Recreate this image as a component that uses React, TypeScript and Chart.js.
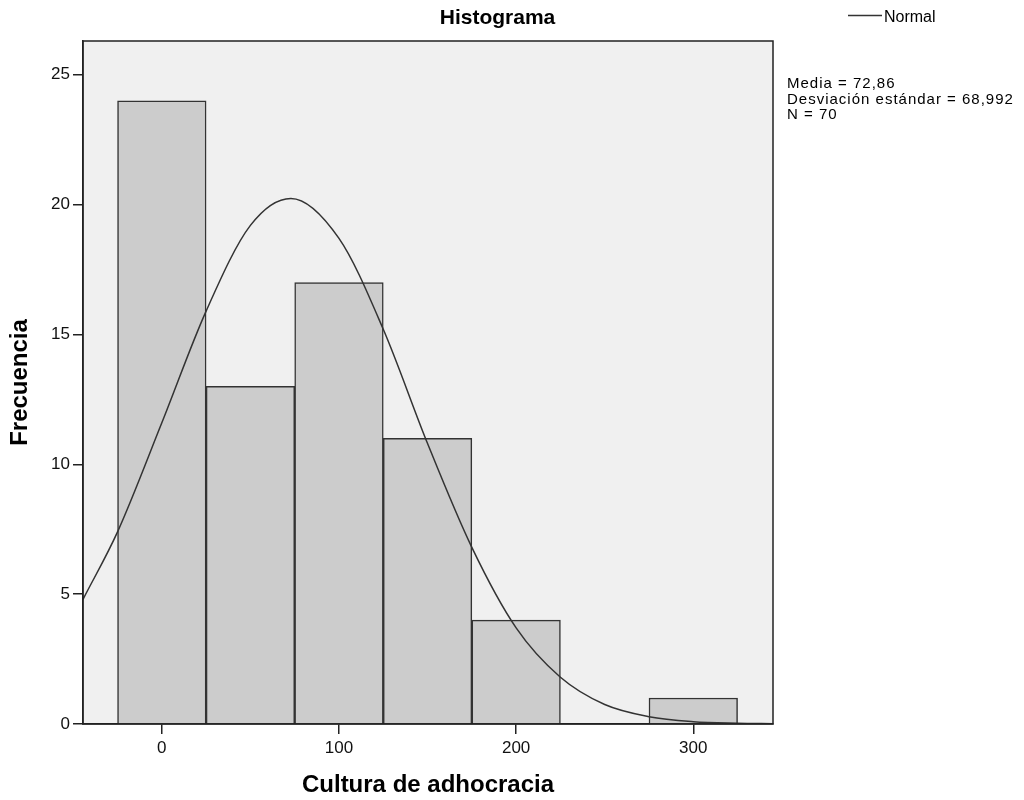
import React, { useEffect, useRef } from "react";
import { Chart, registerables } from "chart.js";

Chart.register(...registerables);

// ---- data ----
const binCenters = [0, 50, 100, 150, 200, 250, 300];
const frequencies = [24, 13, 17, 11, 4, 0, 1];
const normalX = [-44.5, -25, 0, 25, 50, 72.86, 100, 125, 150, 175, 200, 225, 250, 275, 300, 325, 345];
const normalY = [4.8, 7.4, 11.6, 15.9, 19.2, 20.24, 18.7, 15.2, 10.8, 6.8, 3.7, 1.8, 0.75, 0.28, 0.09, 0.03, 0.01];
const xTicks = [0, 100, 200, 300];
const yTicks = [0, 5, 10, 15, 20, 25];
const statsLines = ["Media = 72,86", "Desviación estándar = 68,992", "N = 70"];
const chartTitle = "Histograma";
const xTitle = "Cultura de adhocracia";
const yTitle = "Frecuencia";
const legendLabel = "Normal";

const FONT = "'Liberation Sans', Arial, sans-serif";

const decorPlugin = {
  id: "decor",
  beforeDraw(chart: any) {
    const { ctx, chartArea: a } = chart;
    ctx.save();
    ctx.fillStyle = "#f0f0f0";
    ctx.fillRect(a.left, a.top, a.right - a.left, a.bottom - a.top);
    ctx.restore();
  },
  afterDatasetsDraw(chart: any) {
    const { ctx, chartArea: a } = chart;
    ctx.save();
    ctx.strokeStyle = "#222";
    ctx.lineWidth = 1.5;
    ctx.strokeRect(a.left, a.top, a.right - a.left, a.bottom - a.top);
    ctx.restore();
  },
  afterDraw(chart: any) {
    const { ctx } = chart;
    ctx.save();
    // title
    ctx.fillStyle = "#000";
    ctx.font = `bold 21px ${FONT}`;
    ctx.textAlign = "center";
    ctx.textBaseline = "alphabetic";
    ctx.fillText(chartTitle, 497.5, 24);
    // legend
    ctx.strokeStyle = "#333";
    ctx.lineWidth = 1.5;
    ctx.beginPath();
    ctx.moveTo(848, 15.5);
    ctx.lineTo(882, 15.5);
    ctx.stroke();
    ctx.font = `16px ${FONT}`;
    ctx.textAlign = "left";
    ctx.fillText(legendLabel, 884, 22);
    // stats
    ctx.font = `15px ${FONT}`;
    (ctx as any).letterSpacing = "1px";
    statsLines.forEach((s, i) => {
      ctx.fillText(s, 787, 88 + i * 15.5);
    });
    (ctx as any).letterSpacing = "0px";
    ctx.restore();
  },
};

export default function App() {
  const ref = useRef<HTMLCanvasElement | null>(null);

  useEffect(() => {
    document.body.style.margin = "0";
    const canvas = ref.current;
    if (!canvas) return;
    const chart = new Chart(canvas, {
      type: "bar",
      data: {
        datasets: [
          {
            type: "line",
            label: legendLabel,
            data: normalX.map((x, i) => ({ x, y: normalY[i] })),
            borderColor: "#333",
            borderWidth: 1.5,
            pointRadius: 0,
            fill: false,
            cubicInterpolationMode: "monotone",
            order: 0,
          } as any,
          {
            type: "bar",
            label: "Frecuencia",
            data: binCenters.map((x, i) => ({ x, y: frequencies[i] })),
            backgroundColor: "#cccccc",
            borderColor: "#333",
            borderWidth: 1.5,
            barPercentage: 1,
            categoryPercentage: 1,
            grouped: false,
            order: 1,
          } as any,
        ],
      },
      options: {
        animation: false,
        responsive: false,
        devicePixelRatio: 1,
        layout: { padding: { left: 0, top: 41, right: 251, bottom: 0 } },
        plugins: {
          legend: { display: false },
          tooltip: { enabled: false },
          title: { display: false },
        },
        scales: {
          x: {
            type: "linear",
            min: -44.5,
            max: 345,
            offset: false,
            afterBuildTicks: (s: any) => {
              s.ticks = xTicks.map((v) => ({ value: v }));
            },
            afterFit: (s: any) => {
              s.height = 76;
            },
            grid: {
              offset: false,
              drawOnChartArea: false,
              drawTicks: true,
              tickLength: 10,
              color: "#222",
              lineWidth: 1.5,
            },
            border: { display: true, color: "#222", width: 1.5 },
            ticks: {
              color: "#111",
              font: { family: FONT, size: 17 },
              padding: 4,
              maxRotation: 0,
            },
            title: {
              display: true,
              text: xTitle,
              color: "#000",
              font: { family: FONT, size: 24, weight: "bold" },
              padding: { top: 0, bottom: 0 },
            },
          },
          y: {
            type: "linear",
            min: 0,
            max: 26.3,
            afterBuildTicks: (s: any) => {
              s.ticks = yTicks.map((v) => ({ value: v }));
            },
            afterFit: (s: any) => {
              s.width = 83;
            },
            grid: {
              drawOnChartArea: false,
              drawTicks: true,
              tickLength: 10,
              color: "#222",
              lineWidth: 1.5,
            },
            border: { display: true, color: "#222", width: 1.5 },
            ticks: {
              color: "#111",
              font: { family: FONT, size: 17 },
              padding: 3,
            },
            title: {
              display: true,
              text: yTitle,
              color: "#000",
              font: { family: FONT, size: 24, weight: "bold" },
              padding: { top: 5.5, bottom: 0 },
            },
          },
        },
      } as any,
      plugins: [decorPlugin],
    });
    return () => chart.destroy();
  }, []);

  return (
    <div style={{ position: "absolute", left: 0, top: 0, width: 1024, height: 800, background: "#fff" }}>
      <canvas ref={ref} width={1024} height={800} style={{ width: 1024, height: 800 }} />
    </div>
  );
}
